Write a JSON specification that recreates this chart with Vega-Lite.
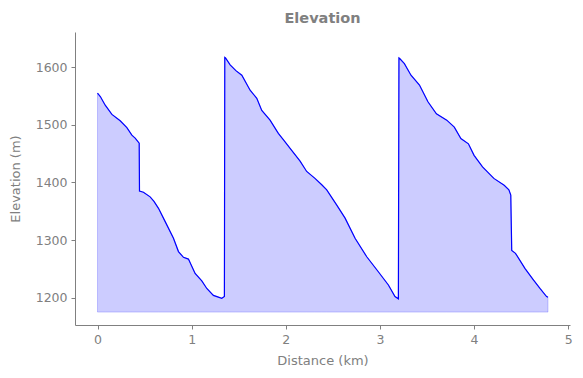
{
  "$schema": "https://vega.github.io/schema/vega-lite/v6.json",
  "width": 495,
  "height": 293,
  "autosize": "none",
  "padding": {"left": 75, "top": 32, "right": 13, "bottom": 53},
  "background": "white",
  "title": {"text": "Elevation", "font": "DejaVu Sans", "fontSize": 14.5, "fontWeight": "bold", "color": "#808080", "offset": 6, "anchor": "middle"},
  "config": {
    "view": {"stroke": null},
    "axis": {
      "domainColor": "#808080", "tickColor": "#808080", "labelColor": "#808080", "titleColor": "#808080",
      "labelFont": "DejaVu Sans", "titleFont": "DejaVu Sans", "labelFontSize": 12.5, "titleFontSize": 13,
      "titleFontWeight": "normal", "grid": false, "tickSize": 4, "labelPadding": 4, "domainWidth": 1, "tickWidth": 1
    }
  },
  "data": {"values": [
    {"d": 0, "e": 1555}, {"d": 0.03, "e": 1549}, {"d": 0.082, "e": 1534}, {"d": 0.153, "e": 1518},
    {"d": 0.241, "e": 1507}, {"d": 0.312, "e": 1495}, {"d": 0.365, "e": 1482}, {"d": 0.40, "e": 1477},
    {"d": 0.443, "e": 1468}, {"d": 0.446, "e": 1385}, {"d": 0.488, "e": 1383}, {"d": 0.559, "e": 1375},
    {"d": 0.60, "e": 1367}, {"d": 0.648, "e": 1355}, {"d": 0.719, "e": 1332}, {"d": 0.807, "e": 1303},
    {"d": 0.86, "e": 1280}, {"d": 0.913, "e": 1270}, {"d": 0.966, "e": 1267}, {"d": 1.037, "e": 1242},
    {"d": 1.108, "e": 1229}, {"d": 1.161, "e": 1216}, {"d": 1.231, "e": 1204}, {"d": 1.284, "e": 1201},
    {"d": 1.32, "e": 1199}, {"d": 1.348, "e": 1202}, {"d": 1.352, "e": 1617}, {"d": 1.36, "e": 1616},
    {"d": 1.409, "e": 1604}, {"d": 1.47, "e": 1594}, {"d": 1.533, "e": 1586}, {"d": 1.621, "e": 1560},
    {"d": 1.692, "e": 1546}, {"d": 1.745, "e": 1525}, {"d": 1.833, "e": 1508}, {"d": 1.921, "e": 1485},
    {"d": 1.98, "e": 1473}, {"d": 2.046, "e": 1459}, {"d": 2.152, "e": 1437}, {"d": 2.222, "e": 1419},
    {"d": 2.31, "e": 1407}, {"d": 2.382, "e": 1396}, {"d": 2.435, "e": 1387}, {"d": 2.54, "e": 1361},
    {"d": 2.63, "e": 1338}, {"d": 2.736, "e": 1303}, {"d": 2.86, "e": 1271}, {"d": 2.983, "e": 1245},
    {"d": 3.09, "e": 1222}, {"d": 3.16, "e": 1202}, {"d": 3.196, "e": 1198}, {"d": 3.202, "e": 1616},
    {"d": 3.21, "e": 1615}, {"d": 3.26, "e": 1606}, {"d": 3.33, "e": 1586}, {"d": 3.42, "e": 1569},
    {"d": 3.51, "e": 1540}, {"d": 3.60, "e": 1519}, {"d": 3.71, "e": 1508}, {"d": 3.79, "e": 1496},
    {"d": 3.86, "e": 1476}, {"d": 3.94, "e": 1467}, {"d": 4.0, "e": 1447}, {"d": 4.09, "e": 1427},
    {"d": 4.21, "e": 1407}, {"d": 4.32, "e": 1395}, {"d": 4.37, "e": 1387}, {"d": 4.39, "e": 1378},
    {"d": 4.40, "e": 1282}, {"d": 4.44, "e": 1277}, {"d": 4.54, "e": 1251}, {"d": 4.63, "e": 1231},
    {"d": 4.70, "e": 1216}, {"d": 4.77, "e": 1202}, {"d": 4.785, "e": 1201}
  ]},
  "encoding": {
    "x": {"field": "d", "type": "quantitative",
      "scale": {"domain": [-0.239, 5.019], "nice": false, "zero": false},
      "axis": {"values": [0, 1, 2, 3, 4, 5], "format": "d", "title": "Distance (km)", "titlePadding": 9, "labelFlush": false}},
    "y": {"field": "e", "type": "quantitative",
      "scale": {"domain": [1152.6, 1661], "nice": false, "zero": false},
      "axis": {"values": [1200, 1300, 1400, 1500, 1600], "format": "d", "title": "Elevation (m)", "titlePadding": 13, "labelFlush": false}}
  },
  "layer": [
    {"mark": {"type": "area", "fill": "#0000ff", "fillOpacity": 0.2, "stroke": "#0000ff", "strokeOpacity": 0.2, "strokeWidth": 1},
     "encoding": {"y2": {"datum": 1175}}},
    {"mark": {"type": "line", "color": "#0000ff", "strokeWidth": 1.2}}
  ]
}
